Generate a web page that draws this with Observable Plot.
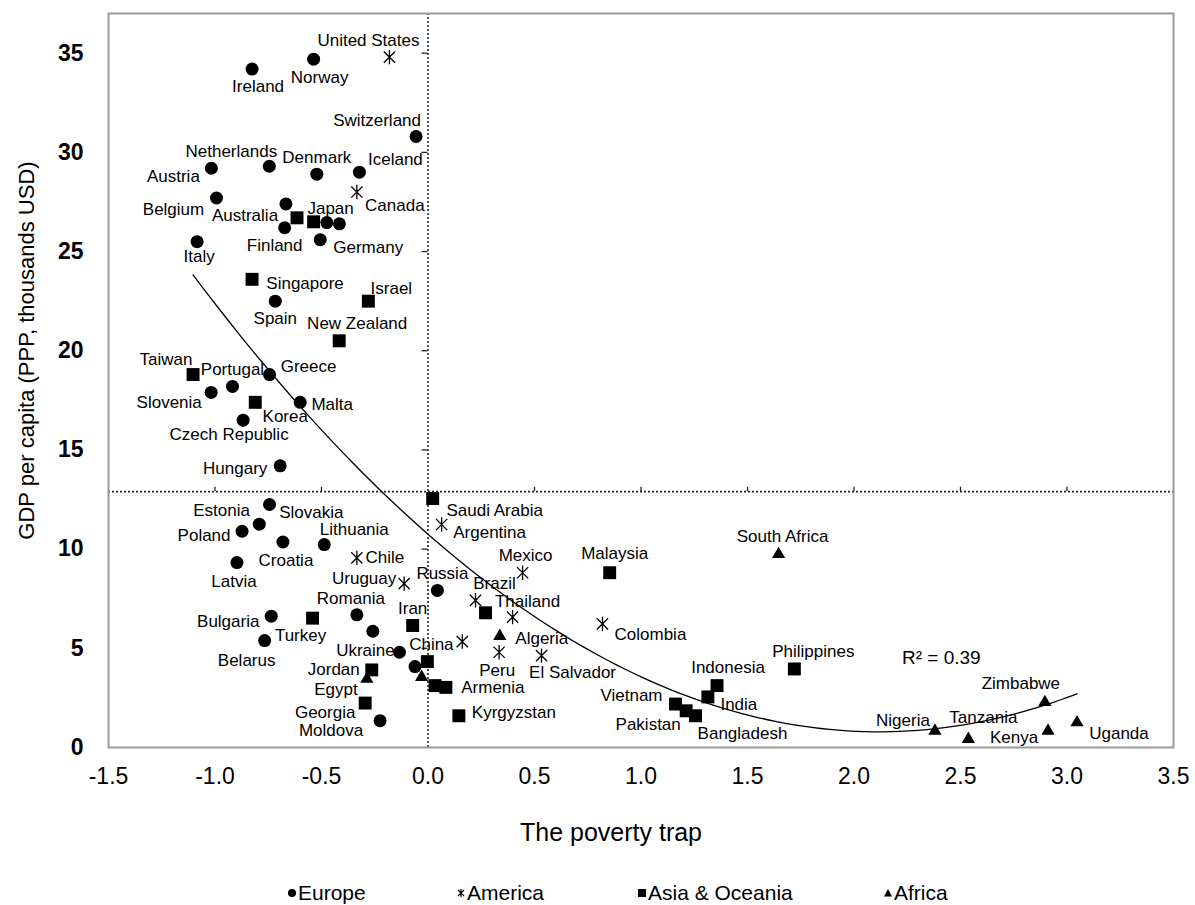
<!DOCTYPE html>
<html>
<head>
<meta charset="utf-8">
<script src="https://cdn.jsdelivr.net/npm/d3@7"></script>
<script src="https://cdn.jsdelivr.net/npm/@observablehq/plot@0.6"></script>
<style>
  body { margin: 0; background: #fff; font-family: "Liberation Sans", Arial, sans-serif; }
  #legend { position: relative; width: 1195px; height: 35px; font-size: 21px; color: #000; }
  #legend .item { position: absolute; top: 11px; display: flex; align-items: center; line-height: 24px; }
  #legend svg { margin-right: 1px; }
</style>
</head>
<body>
<div id="chart"></div>
<div id="legend"></div>
<script>
// ---------- data ----------
const xTicks = [-1.5, -1, -0.5, 0, 0.5, 1, 1.5, 2, 2.5, 3, 3.5];
const yTicks = [0, 5, 10, 15, 20, 25, 30, 35];
const regions = ["Europe", "America", "Asia & Oceania", "Africa"];
const meanGdp = 12.9; // horizontal reference line

const europeNames = ["Ireland","Norway","Switzerland","Austria","Netherlands","Denmark","Iceland","Belgium","","Finland","","","Germany","Italy","Spain","Greece","Portugal","Slovenia","Malta","Czech Republic","Hungary","Estonia","Slovakia","Poland","Lithuania","Croatia","Latvia","Russia","Romania","","Bulgaria","Belarus","Ukraine","","Moldova"];
const europeX = [-0.826,-0.537,-0.056,-1.017,-0.745,-0.522,-0.322,-0.993,-0.667,-0.673,-0.475,-0.416,-0.506,-1.084,-0.717,-0.744,-0.918,-1.018,-0.600,-0.868,-0.694,-0.744,-0.792,-0.873,-0.487,-0.681,-0.897,0.044,-0.334,-0.259,-0.736,-0.767,-0.134,-0.061,-0.225];
const europeY = [34.2,34.7,30.8,29.2,29.3,28.9,29.0,27.7,27.4,26.2,26.46,26.4,25.6,25.5,22.5,18.8,18.2,17.9,17.4,16.5,14.2,12.25,11.26,10.9,10.23,10.36,9.32,7.92,6.69,5.86,6.62,5.39,4.80,4.08,1.35];

const americaNames = ["United States","Canada","Argentina","Chile","Mexico","Uruguay","Brazil","","Colombia","","Peru","El Salvador"];
const americaX = [-0.181,-0.334,0.064,-0.334,0.444,-0.112,0.223,0.397,0.819,0.161,0.334,0.533];
const americaY = [34.8,28.0,11.24,9.56,8.81,8.26,7.42,6.57,6.23,5.34,4.80,4.63];

const asiaNames = ["Australia","Japan","Singapore","Israel","New Zealand","Taiwan","Korea","Saudi Arabia","Malaysia","Turkey","Iran","Thailand","China","Jordan","Georgia","","Armenia","Kyrgyzstan","Philippines","Indonesia","India","Vietnam","Pakistan","Bangladesh"];
const asiaX = [-0.615,-0.537,-0.826,-0.280,-0.417,-1.103,-0.811,0.022,0.853,-0.542,-0.072,0.270,-0.003,-0.264,-0.295,0.033,0.084,0.145,1.720,1.357,1.314,1.162,1.212,1.256];
const asiaY = [26.7,26.5,23.6,22.5,20.5,18.8,17.4,12.55,8.81,6.52,6.15,6.79,4.33,3.91,2.24,3.12,3.03,1.60,3.96,3.12,2.55,2.19,1.85,1.60];

const africaNames = ["South Africa","Algeria","Egypt","","Zimbabwe","Nigeria","Tanzania","Kenya","Uganda"];
const africaX = [1.646,0.337,-0.287,-0.030,2.896,2.380,2.537,2.911,3.047];
const africaY = [9.74,5.61,3.45,3.55,2.28,0.84,0.42,0.84,1.26];

const rSquaredText = "R\u00B2 = 0.39";
const rSquaredAt = {x: 2.41, y: 4.5};

// label offsets in pixels (dx, dy) relative to each point
const labelOffsets = {
  "Ireland":[6,18],"Norway":[6,18],"Switzerland":[-39,-16],"Netherlands":[-38,-15],"Denmark":[0,-17],
  "Iceland":[36,-13],"Austria":[-38,8],"Belgium":[-43,12],"Finland":[-10,18],"Germany":[48,8],
  "Italy":[2,15],"Spain":[0,17],"Greece":[39,-8],"Portugal":[0,-17],"Slovenia":[-42,10],"Malta":[32,2],
  "Czech Republic":[-14,14],"Hungary":[-45,3],"Estonia":[-48,6],"Slovakia":[52,-12],"Poland":[-38,4],
  "Lithuania":[30,-15],"Croatia":[3,19],"Latvia":[-3,19],"Russia":[5,-17],"Romania":[-6,-16],
  "Bulgaria":[-43,5],"Belarus":[-18,20],"Ukraine":[-34,-2],"Moldova":[-49,10],
  "United States":[-21,-17],"Canada":[38,14],"Argentina":[48,8],"Chile":[28,0],"Mexico":[3,-17],
  "Uruguay":[-40,-5],"Brazil":[19,-17],"Colombia":[48,11],"Peru":[-2,18],"El Salvador":[31,17],
  "Australia":[-52,-2],"Japan":[17,-13],"Singapore":[53,4],"Israel":[23,-13],"New Zealand":[18,-17],
  "Taiwan":[-27,-15],"Korea":[30,14],"Saudi Arabia":[62,12],"Malaysia":[5,-19],"Turkey":[-12,17],
  "Iran":[0,-17],"Thailand":[42,-11],"China":[4,-17],"Jordan":[-38,0],"Georgia":[-40,9],"Armenia":[47,0],
  "Kyrgyzstan":[55,-3],"Philippines":[19,-17],"Indonesia":[11,-18],"India":[31,8],"Vietnam":[-44,-9],
  "Pakistan":[-38,14],"Bangladesh":[47,18],
  "South Africa":[4,-18],"Algeria":[42,2],"Egypt":[-31,10],"Zimbabwe":[-24,-19],"Nigeria":[-32,-10],
  "Tanzania":[15,-22],"Kenya":[-34,7],"Uganda":[42,11]
};

// ---------- build tables ----------
function table(names, xs, ys, region) {
  return names.map((n, i) => ({name: n, x: xs[i], y: ys[i], region}));
}
const europe = table(europeNames, europeX, europeY, regions[0]);
const america = table(americaNames, americaX, americaY, regions[1]);
const asia = table(asiaNames, asiaX, asiaY, regions[2]);
const africa = table(africaNames, africaX, africaY, regions[3]);
const all = [...europe, ...america, ...asia, ...africa];

// quadratic least-squares trend (as in the original's polynomial trendline)
function quadFit(pts) {
  let S = [0,0,0,0,0], T = [0,0,0];
  for (const p of pts) {
    let xp = 1;
    for (let k = 0; k < 5; k++) { S[k] += xp; if (k < 3) T[k] += xp * p.y; xp *= p.x; }
  }
  const A = [[S[0],S[1],S[2],T[0]],[S[1],S[2],S[3],T[1]],[S[2],S[3],S[4],T[2]]];
  for (let i = 0; i < 3; i++) {
    for (let j = i + 1; j < 3; j++) {
      const f = A[j][i] / A[i][i];
      for (let k = i; k < 4; k++) A[j][k] -= f * A[i][k];
    }
  }
  const c = [0,0,0];
  for (let i = 2; i >= 0; i--) {
    let s = A[i][3];
    for (let k = i + 1; k < 3; k++) s -= A[i][k] * c[k];
    c[i] = s / A[i][i];
  }
  return c; // c0 + c1 x + c2 x^2
}
const coef = quadFit(all);
const xMin = d3.min(all, d => d.x), xMax = d3.max(all, d => d.x);
const trend = d3.range(0, 101).map(i => {
  const x = xMin + (xMax - xMin) * i / 100;
  return {x, y: coef[0] + coef[1] * x + coef[2] * x * x};
});

// asterisk-like star symbol for America
const starSymbol = {
  draw(ctx, size) {
    const r = Math.sqrt(size / Math.PI);
    const d = r * 0.78;
    ctx.moveTo(0, -r); ctx.lineTo(0, r);
    ctx.moveTo(-d, -d); ctx.lineTo(d, d);
    ctx.moveTo(-d, d); ctx.lineTo(d, -d);
  }
};

const font = "Liberation Sans, Arial, sans-serif";
const labelMarks = all.filter(d => d.name).map(d => {
  const o = labelOffsets[d.name] || [0, -16];
  return Plot.text([d], {x: "x", y: "y", text: "name", dx: o[0], dy: o[1], fontSize: 17, fill: "#000"});
});

const chart = Plot.plot({
  width: 1195,
  height: 870,
  marginLeft: 108,
  marginRight: 22,
  marginTop: 13,
  marginBottom: 123,
  x: {domain: [-1.5, 3.5]},
  y: {domain: [0, 37]},
  style: {fontFamily: font, background: "white", color: "#000"},
  marks: [
    Plot.ruleX([0], {stroke: "#222", strokeWidth: 1.6, strokeDasharray: "2,2"}),
    Plot.ruleY([meanGdp], {stroke: "#222", strokeWidth: 1.6, strokeDasharray: "2,2"}),
    Plot.ruleY(yTicks.filter(t => t > 0), {x1: -0.028, x2: 0, stroke: "#222", strokeWidth: 1.3}),
    Plot.ruleX(xTicks.filter(t => t !== 0 && t > -1.5 && t < 3.5), {y1: meanGdp, y2: meanGdp + 0.22, stroke: "#222", strokeWidth: 1.3}),
    Plot.frame({stroke: "#9a9a9a", strokeWidth: 2}),
    Plot.axisX({ticks: xTicks, tickFormat: d => d.toFixed(1), tickSize: 0, tickPadding: 20, fontSize: 23, label: null}),
    Plot.axisY({ticks: yTicks, tickSize: 0, tickPadding: 25, fontSize: 23, fontWeight: "bold", label: null}),
    Plot.line(trend, {x: "x", y: "y", stroke: "#000", strokeWidth: 1.3}),
    Plot.dot(europe, {x: "x", y: "y", r: 6.5, fill: "#000", stroke: "none"}),
    Plot.dot(asia, {x: "x", y: "y", symbol: "square", r: 7.3, fill: "#000", stroke: "none"}),
    Plot.dot(africa, {x: "x", y: "y", symbol: "triangle", r: 4.9, fill: "#000", stroke: "none"}),
    Plot.dot(america, {x: "x", y: "y", symbol: starSymbol, r: 7.2, fill: "none", stroke: "#000", strokeWidth: 1.3}),
    ...labelMarks,
    Plot.text([rSquaredAt], {x: "x", y: "y", text: () => rSquaredText, fontSize: 19, fill: "#000"}),
    Plot.text(["The poverty trap"], {frameAnchor: "bottom", lineAnchor: "middle", textAnchor: "middle", dx: -30, dy: 85, fontSize: 25, fill: "#000"}),
    Plot.text(["GDP per capita (PPP, thousands USD)"], {frameAnchor: "left", lineAnchor: "middle", textAnchor: "middle", dx: -82, dy: -30, rotate: -90, fontSize: 22, fill: "#000"})
  ]
});
document.getElementById("chart").appendChild(chart);

// ---------- legend ----------
const legendLeft = [287, 456, 637, 883];
const legend = document.getElementById("legend");
const symbolSvgs = [
  '<svg width="10" height="10" viewBox="-5 -5 10 10"><circle r="4" fill="#000"/></svg>',
  '<svg width="10" height="10" viewBox="-5 -5 10 10"><path d="M0,-4V4M-3,-3L3,3M-3,3L3,-3" stroke="#000" stroke-width="1.2" fill="none"/></svg>',
  '<svg width="10" height="10" viewBox="-5 -5 10 10"><rect x="-4" y="-4" width="8" height="8" fill="#000"/></svg>',
  '<svg width="10" height="10" viewBox="-5 -5 10 10"><path d="M0,-4L4,3.5H-4Z" fill="#000"/></svg>'
];
regions.forEach((r, i) => {
  const item = document.createElement("div");
  item.className = "item";
  item.style.left = legendLeft[i] + "px";
  item.innerHTML = symbolSvgs[i] + "<span>" + r + "</span>";
  legend.appendChild(item);
});
</script>
</body>
</html>
